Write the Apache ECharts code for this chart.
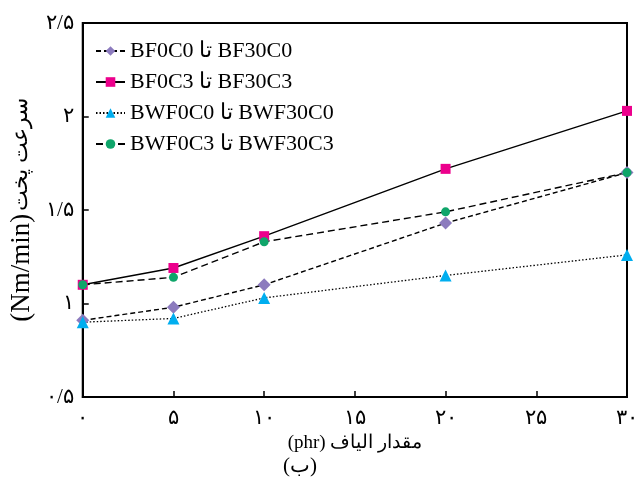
<!DOCTYPE html>
<html>
<head>
<meta charset="utf-8">
<script src="https://cdn.jsdelivr.net/npm/echarts@6/dist/echarts.min.js"></script>
<style>
html,body{margin:0;padding:0;background:#fff;}
#c{width:641px;height:488px;}
</style>
</head>
<body>
<div id="c"></div>
<script>
// Data
const xValues = [0, 5, 10, 20, 30];
const seriesNames = ['BF0C0 تا BF30C0', 'BF0C3 تا BF30C3', 'BWF0C0 تا BWF30C0', 'BWF0C3 تا BWF30C3'];
const bf0c0 = [0.91, 0.98, 1.10, 1.43, 1.70];
const bf0c3 = [1.10, 1.19, 1.36, 1.72, 2.03];
const bwf0c0 = [0.90, 0.92, 1.03, 1.15, 1.26];
const bwf0c3 = [1.10, 1.14, 1.33, 1.49, 1.70];
const xAxisTitle = '(phr) مقدار الیاف';
const yAxisUnit = '(Nm/min)';
const yAxisTitle = 'سرعت پخت';
const subTitle = '(ب)';

const faDigits = '۰۱۲۳۴۵۶۷۸۹';
function toFa(v) {
  const s = String(Math.round(v * 10) / 10).replace('.', '/');
  return s.replace(/[0-9]/g, d => faDigits[+d]);
}
function pairs(arr) { return xValues.map((x, i) => [x, arr[i]]); }

const font = "'Liberation Serif', 'DejaVu Serif', serif";
const chart = echarts.init(document.getElementById('c'), null, {renderer: 'canvas'});

function mk(name, data, symbol, size, color, type, width) {
  return {
    name: name, type: 'line', data: pairs(data),
    symbol: symbol, symbolSize: size,
    itemStyle: {color: color, borderWidth: 0},
    lineStyle: {color: '#000', width: width, type: type},
    emphasis: {disabled: true}, animation: false
  };
}

chart.setOption({
  animation: false,
  grid: {left: 80, right: 9, top: 23, bottom: 91, show: true, borderColor: '#000', borderWidth: 2, backgroundColor: 'transparent'},
  legend: {
    orient: 'vertical', left: 90, top: 35, itemGap: 9, itemWidth: 29, itemHeight: 12,
    textStyle: {fontFamily: font, fontSize: 22, color: '#000'},
    data: seriesNames
  },
  xAxis: {
    type: 'value', min: 0, max: 30, interval: 5,
    axisLine: {show: true, lineStyle: {color: '#000', width: 2}},
    axisTick: {show: true, inside: true, length: 6, lineStyle: {color: '#000', width: 1.5}},
    splitLine: {show: false},
    axisLabel: {formatter: v => toFa(v), fontFamily: font, fontSize: 21, color: '#000', margin: 11},
    name: xAxisTitle, nameLocation: 'middle', nameGap: 34,
    nameTextStyle: {fontFamily: font, fontSize: 19, color: '#000'}
  },
  yAxis: {
    type: 'value', min: 0.5, max: 2.5, interval: 0.5,
    axisLine: {show: true, lineStyle: {color: '#000', width: 2}},
    axisTick: {show: true, inside: true, length: 6, lineStyle: {color: '#000', width: 1.5}},
    splitLine: {show: false},
    axisLabel: {formatter: v => toFa(v), fontFamily: font, fontSize: 21, color: '#000', margin: 9},
    name: '{u|' + yAxisUnit + '} {t|' + yAxisTitle + '}', nameLocation: 'middle', nameGap: 44, nameRotate: 90,
    nameTextStyle: {
      fontFamily: font, color: '#000',
      rich: {
        u: {fontFamily: font, fontSize: 27, color: '#000'},
        t: {fontFamily: font, fontSize: 22, color: '#000'}
      }
    }
  },
  graphic: [{
    type: 'text', x: 300, y: 466,
    style: {text: subTitle, font: "21px " + font, fill: '#000', align: 'center', verticalAlign: 'middle'}
  }],
  series: [
    mk(seriesNames[0], bf0c0, 'diamond', 13, '#8C7BBE', [5, 3], 1.4),
    mk(seriesNames[1], bf0c3, 'rect', 10, '#EC008C', 'solid', 1.4),
    mk(seriesNames[2], bwf0c0, 'triangle', 12, '#00AEEF', [1.5, 2], 1.3),
    mk(seriesNames[3], bwf0c3, 'circle', 9, '#0FA56A', [7, 4], 1.4)
  ]
});
</script>
</body>
</html>
